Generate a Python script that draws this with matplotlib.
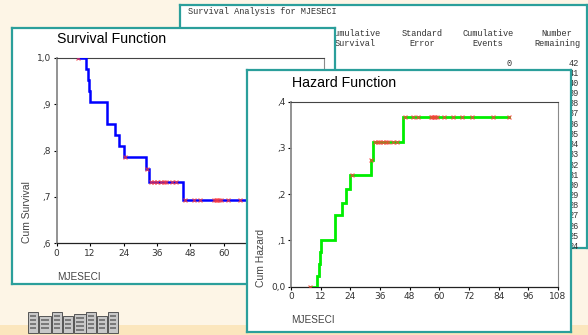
"""
Slide: SPSS Kaplan-Meier output (survival and cumulative hazard) for MJESECI.
"""

import numpy as np
import matplotlib.pyplot as plt
from matplotlib.patches import Rectangle

# ============================================================================ #
# DATA
# ============================================================================ #

# step times (months) and the level reached at each step
step_times = [7.5, 10.5, 11.2, 11.7, 12.1, 17.9, 20.8, 22.3, 24.0, 32.2, 33.0, 45.4]
surv_vals = [1.0, 0.976, 0.952, 0.929, 0.905, 0.857, 0.833, 0.810, 0.786, 0.760, 0.733, 0.693]
haz_vals = [0.0, 0.024, 0.049, 0.074, 0.100, 0.154, 0.182, 0.211, 0.241, 0.274, 0.313, 0.368]
last_time = 88.0

# censored observations
censor_times = [7.5, 24.5, 32.5,
                34.0, 35.0, 36.0, 37.4, 38.6, 39.3, 41.3, 43.0,
                46.2, 49.4, 51.5, 56.6, 57.2, 57.7, 58.2, 58.9,
                61.7, 65.7, 69.3, 73.3, 81.8, 88.0]

x_ticks = [0, 12, 24, 36, 48, 60, 72, 84, 96, 108]
surv_yticks = [0.6, 0.7, 0.8, 0.9, 1.0]
surv_ylabels = [",6", ",7", ",8", ",9", "1,0"]
haz_yticks = [0.0, 0.1, 0.2, 0.3, 0.4]
haz_ylabels = ["0,0", ",1", ",2", ",3", ",4"]

# text output window
table_title = "Survival Analysis for MJESECI"
table_headers = [("Cumulative", "Survival"), ("Standard", "Error"),
                 ("Cumulative", "Events"), ("Number", "Remaining")]
number_remaining = list(range(42, 23, -1))

# ============================================================================ #
# LAYOUT
# ============================================================================ #

W, H = 588, 335
BG = "#fdf5e6"
STRIPE = "#fbe6bd"
TEAL = "#2b9f9b"
TICK_COL = "#333333"

fig = plt.figure(figsize=(W / 100, H / 100), dpi=100)
fig.patch.set_facecolor(BG)


def px_axes(x0, y0, x1, y1, z):
    """Axes placed by pixel box (top-left origin)."""
    ax = fig.add_axes([x0 / W, 1 - y1 / H, (x1 - x0) / W, (y1 - y0) / H])
    ax.set_zorder(z)
    return ax


def janela(x0, y0, x1, y1, z):
    """White window with teal border."""
    ax = px_axes(x0, y0, x1, y1, z)
    ax.set_facecolor("white")
    ax.set_xticks([])
    ax.set_yticks([])
    for s in ax.spines.values():
        s.set_color(TEAL)
        s.set_linewidth(1.6)
    return ax


def fx(px):
    return px / W


def fy(py):
    return 1 - py / H


# ---------------------------------------------------------------------------
# background: bottom stripe + building clip art
# ---------------------------------------------------------------------------
bg = px_axes(0, 0, W, H, 0)
bg.set_xlim(0, W)
bg.set_ylim(H, 0)
bg.axis("off")
bg.add_patch(Rectangle((0, 325), W, 10, color=STRIPE, lw=0))

# towers and low blocks of the building icon
for xb, yb, wb in [(28, 312, 10), (52, 312, 10), (63, 316, 10), (74, 314, 12),
                   (86, 312, 10), (97, 316, 10), (108, 312, 10), (39, 316, 12)]:
    bg.add_patch(Rectangle((xb, yb), wb, 333 - yb, fc="#c8c8c8", ec="#555555", lw=0.7))
    for yy in range(yb + 3, 331, 4):
        bg.add_patch(Rectangle((xb + 2, yy), wb - 4, 1.5, fc="#7a7a7a", lw=0))

# ---------------------------------------------------------------------------
# text output window
# ---------------------------------------------------------------------------
tw = janela(180, 5, 587, 248, 1)
mono = dict(family="Liberation Mono", fontsize=6.2, color="#333333")
fig.text(fx(188), fy(12), table_title, va="center", ha="left", zorder=1.5, **mono)
for cx, (l1, l2) in zip([355, 422, 488, 557], table_headers):
    fig.text(fx(cx), fy(33), l1, va="center", ha="center", zorder=1.5, **mono)
    fig.text(fx(cx), fy(43), l2, va="center", ha="center", zorder=1.5, **mono)
fig.text(fx(512), fy(63), "0", va="center", ha="right", zorder=1.5, **mono)
for i, n in enumerate(number_remaining):
    fig.text(fx(579), fy(63 + i * 10.2), str(n), va="center", ha="right",
             zorder=1.5, **mono)


# ---------------------------------------------------------------------------
# plot helper
# ---------------------------------------------------------------------------
def grafico(ax, vals, cor, yticks, ylabels, ylim, xlim, lw, last_label):
    tempos = step_times + [last_time]
    niveis = vals + [vals[-1]]
    ax.step(tempos, niveis, where="post", color=cor, lw=lw, zorder=3,
            solid_joinstyle="miter")

    idx = np.searchsorted(step_times, censor_times, side="right") - 1
    ax.plot(censor_times, np.array(vals)[idx], ls="none", marker="x",
            ms=3.2, mew=0.9, color="#ff3b3b", alpha=0.75, zorder=4)

    ax.set_xlim(*xlim)
    ax.set_ylim(*ylim)
    xt = [t for t in x_ticks if t <= xlim[1]]
    ax.set_xticks(xt)
    # labels hidden under an overlapping window are left blank
    ax.set_xticklabels([str(t) if t <= last_label else "" for t in xt])
    ax.set_yticks(yticks)
    ax.set_yticklabels(ylabels)
    ax.tick_params(labelsize=6.5, colors="black", labelcolor=TICK_COL,
                   length=2.5, width=0.8, pad=1.5)
    ax.spines["left"].set_color("#8a8a8a")
    ax.spines["left"].set_linewidth(1.3)
    ax.spines["bottom"].set_color("#222222")
    ax.spines["bottom"].set_linewidth(0.9)
    ax.spines["top"].set_color("#444444")
    ax.spines["top"].set_linewidth(0.8)
    ax.spines["right"].set_color("#8a8a8a")
    ax.spines["right"].set_linewidth(0.8)
    ax.set_facecolor("white")


sans = "Liberation Sans"

# ---------------------------------------------------------------------------
# survival window
# ---------------------------------------------------------------------------
janela(12, 28, 335, 284, 2)
ax_s = px_axes(56.7, 57.7, 324, 243.3, 3)
grafico(ax_s, surv_vals, "#0000ff", surv_yticks, surv_ylabels,
        (0.6, 1.0), (0, 96), 1.8, 60)
fig.text(fx(57), fy(39), "Survival Function", family=sans, fontsize=10.2,
         va="center", ha="left", zorder=3)
fig.text(fx(27), fy(243), "Cum Survival", family=sans, fontsize=7.5,
         color="#444444", rotation=90, va="bottom", ha="center", zorder=3)
fig.text(fx(57), fy(277), "MJESECI", family=sans, fontsize=7.2,
         color="#444444", va="center", ha="left", zorder=3)

# ---------------------------------------------------------------------------
# hazard window
# ---------------------------------------------------------------------------
janela(247, 70, 571, 332, 4)
ax_h = px_axes(291, 101.7, 558, 286.7, 5)
grafico(ax_h, haz_vals, "#00ee00", haz_yticks, haz_ylabels,
        (0.0, 0.4), (0, 108), 2.0, 108)
fig.text(fx(291.5), fy(83), "Hazard Function", family=sans, fontsize=10.2,
         va="center", ha="left", zorder=5)
fig.text(fx(261), fy(287), "Cum Hazard", family=sans, fontsize=7.5,
         color="#444444", rotation=90, va="bottom", ha="center", zorder=5)
fig.text(fx(291), fy(320), "MJESECI", family=sans, fontsize=7.2,
         color="#444444", va="center", ha="left", zorder=5)

fig.savefig("out.png", dpi=100, facecolor=BG)
